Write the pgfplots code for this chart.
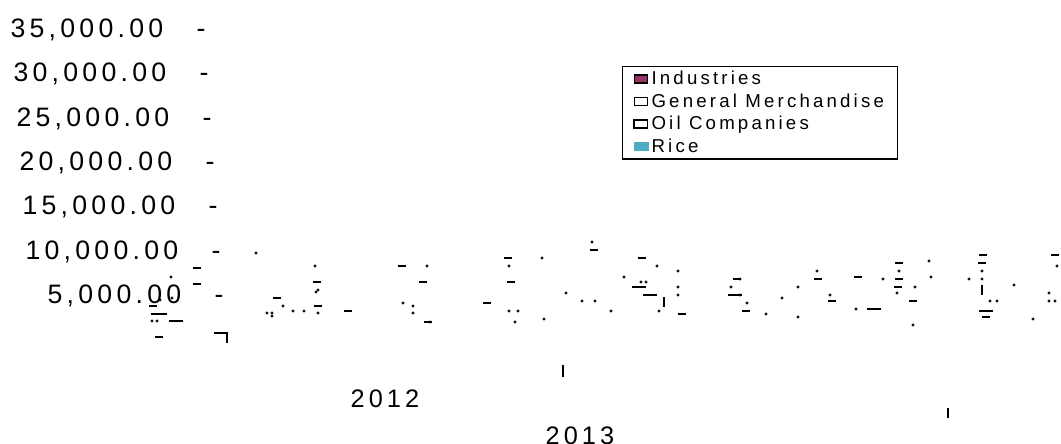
\documentclass[border=0pt]{standalone}
\usepackage{pgfplots}
\pgfplotsset{compat=1.18}
\usepackage{fontspec}
\setmainfont{Liberation Sans}
\newfontfamily\ticfont[LetterSpace=16]{Liberation Sans}
\newfontfamily\legfont[LetterSpace=17]{Liberation Sans}
\definecolor{plum}{HTML}{993366}
\definecolor{rice}{HTML}{4BACC6}

% small dots
\pgfplotstableread{
x y
256 9481
171 6772
160 4176
172 4402
152 1806
157 1806
283 3499
267 2709
272 2709
272 2370
293 2935
304 2935
318 2709
315 8014
316 5079
318 5305
427 8014
403 3838
413 3499
413 2709
430 1693
509 8014
509 2935
518 2935
515 1693
542 8917
544 2032
566 4966
582 4063
595 4063
592 10723
611 2935
624 6772
657 8014
641 6208
646 6208
659 2935
678 7449
678 5644
678 4741
731 5644
747 3838
740 6546
740 4741
766 2596
782 4402
798 5644
798 2257
817 7449
830 4741
856 3160
883 6546
899 7449
897 4966
929 8578
931 6772
915 5644
913 1354
969 6546
982 7449
982 6546
990 4063
997 4063
1014 5869
1033 2032
1057 8014
1049 4966
1049 4063
1055 4063
}\dots

% short dashes
\pgfplotstableread{
x y
197 7788
197 5982
153 3499
155 2596
163 2596
277 4402
318 3499
317 6208
348 2935
402 8014
423 6208
428 1693
487 3838
508 8917
511 6208
594 9820
642 8917
682 2596
737 6546
746 2935
818 6546
832 4063
858 6772
899 8352
899 6546
898 5644
913 4063
983 9255
982 8352
986 2257
1055 9255
}\dashes

% long dashes
\pgfplotstableread{
x y
176 1806
639 5644
650 4741
735 4741
874 3160
986 2935
}\longdashes

% vertical strokes
\pgfplotstableread{
x y
664 3950
982 5305
}\vstrokes

\begin{document}
\begin{tikzpicture}
\begin{axis}[
  scale only axis,
  width=795.75pt, height=332.25pt,
  xmin=0, xmax=1061,
  ymin=-11964, ymax=38037,
  axis line style={draw=none},
  major tick length=0pt,
  clip=false,
  scaled ticks=false,
  /pgf/number format/assume math mode=true,
  ytick={5000,10000,15000,20000,25000,30000,35000},
  yticklabel style={anchor=east, inner sep=0pt, xshift=167.85pt, yshift=-2.25pt,
    font=\fontsize{20}{20}\ticfont},
  yticklabel={\pgfmathsetmacro\sh{2.25*\ticknum}\pgfmathprintnumber[fixed,fixed zerofill,precision=2,1000 sep={,},assume math mode=true]{\tick}\hspace*{25pt}-\hspace*{\sh pt}},
  xtick={385,580},
  xticklabels={\raisebox{27pt}{2012},\raisebox{-1pt}{2013}},
  xticklabel style={anchor=base, inner sep=0pt, font=\fontsize{19}{19}\ticfont},
  legend style={at={(rel axis cs:0.5862,0.851)}, anchor=north west,
    draw=black, line width=1pt, font=\fontsize{14}{14}\legfont,
    inner xsep=8pt, inner ysep=1.5pt, row sep=1.2pt},
  legend cell align=left,
]
\addlegendimage{legend image code/.code={\draw[fill=plum,draw=black,line width=1pt] (0pt,-3pt) rectangle (10pt,3pt);}}
\addlegendentry{Industries}
\addlegendimage{legend image code/.code={\draw[fill=white,draw=black,line width=1pt] (0pt,-3pt) rectangle (10pt,3pt);}}
\addlegendentry{General Merchandise}
\addlegendimage{legend image code/.code={\draw[fill=white,draw=black,line width=1.4pt] (0pt,-3pt) rectangle (10pt,3pt);}}
\addlegendentry{Oil Companies}
\addlegendimage{legend image code/.code={\fill[rice] (0pt,-3pt) rectangle (10.5pt,3pt);}}
\addlegendentry{Rice}

\addplot[only marks, mark=*, mark size=0.9pt, color=black, forget plot] table {\dots};
\addplot[only marks, mark=-, mark size=3pt, line width=1.5pt, color=black, forget plot] table {\dashes};
\addplot[only marks, mark=-, mark size=5.5pt, line width=1.5pt, color=black, forget plot] table {\longdashes};
\addplot[only marks, mark=|, mark size=3.75pt, line width=1.5pt, color=black, forget plot] table {\vstrokes};

% stray axis strokes
\draw[line width=1.5pt] (axis cs:155,0) -- (axis cs:163,0);
\draw[line width=1.5pt] (axis cs:214,451) -- (axis cs:227,451) -- (axis cs:227,-677);
\draw[line width=1.5pt] (axis cs:563,-3160) -- (axis cs:563,-4515);
\draw[line width=1.5pt] (axis cs:948,-8014) -- (axis cs:948,-9142);

\coordinate (SW) at (rel axis cs:0,0);
\coordinate (NE) at (rel axis cs:1,1);
\end{axis}
\pgfresetboundingbox
\path[use as bounding box] (SW) rectangle (NE);
\end{tikzpicture}
\end{document}
